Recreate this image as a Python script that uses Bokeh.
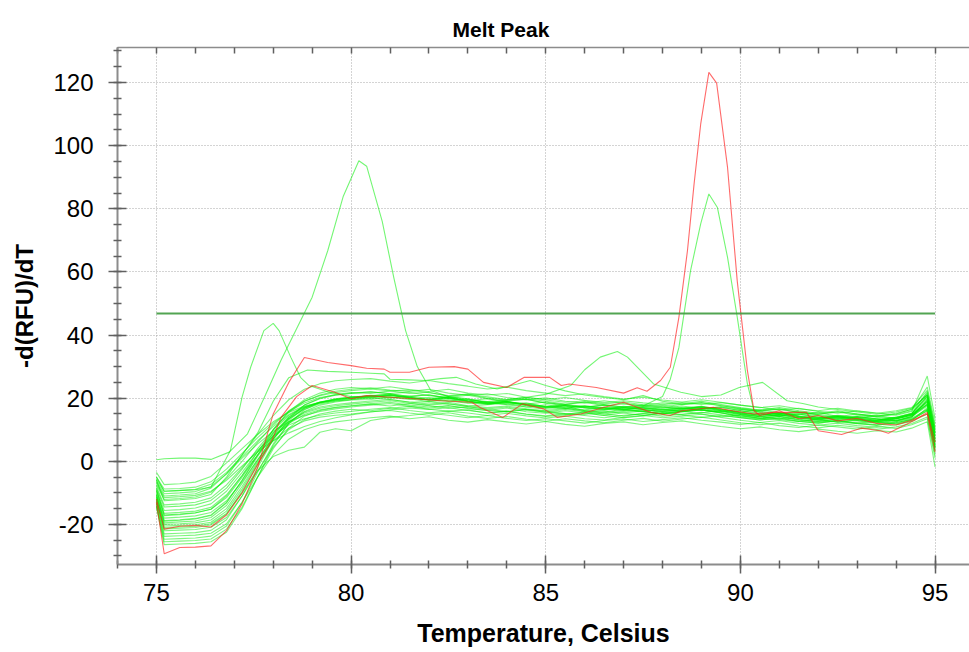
from bokeh.plotting import figure
from bokeh.models import FixedTicker, LinearAxis, Range1d, Title
from bokeh.embed import file_html
from bokeh.resources import INLINE

# ---------------- data ----------------
TEMPS = [75.0, 75.2, 75.6, 76.0, 76.4, 76.8, 77.2, 77.6, 78.0, 78.4, 78.8, 79.2, 79.6, 80.0,
         80.5, 81.0, 81.5, 82.0, 82.5, 83.0, 83.5, 84.0, 84.5, 85.0, 85.5, 86.0, 86.5, 87.0,
         87.5, 88.0, 88.5, 89.0, 89.5, 90.0, 90.5, 91.0, 91.5, 92.0, 92.5, 93.0, 93.5, 94.0,
         94.4, 94.8, 95.0]

G01 = [-3.5, -7.4, -7.1, -6.6, -4.8, -0.5, 4.0, 8.5, 12.5, 15.5, 17.5, 18.6, 19.2, 19.5,
       20.1, 19.6, 18.7, 18.9, 18.1, 17.5, 17.9, 18.4, 17.2, 16.5, 16.9, 15.8, 16.2, 16.9, 16.4,
       15.7, 16.3, 17.1, 16.0, 15.2, 14.6, 15.3, 14.1, 13.6, 14.2, 13.1, 12.9, 13.7, 14.8, 18.5, 7.5]
G02 = [-5.0, -8.8, -8.6, -8.2, -6.5, -2.5, 2.5, 7.5, 12.0, 15.8, 18.5, 20.2, 21.0, 21.6,
       22.0, 21.5, 21.9, 20.8, 20.2, 20.9, 19.8, 19.1, 19.6, 18.5, 18.0, 18.8, 17.9, 17.2, 17.8,
       17.1, 16.6, 17.4, 16.2, 15.6, 16.3, 15.4, 14.8, 15.5, 14.2, 13.8, 14.5, 13.6, 14.9, 20.0, 9.0]
G03 = [-6.0, -10.3, -10.0, -9.6, -8.0, -4.0, 1.0, 5.5, 9.5, 12.5, 14.5, 15.8, 16.6, 17.2,
       17.8, 18.3, 17.4, 16.8, 17.6, 16.9, 16.1, 15.6, 16.4, 15.9, 15.1, 14.8, 15.7, 15.3, 14.5,
       15.2, 15.9, 15.0, 14.1, 14.7, 13.6, 13.2, 12.6, 13.3, 12.5, 12.0, 12.8, 11.9, 13.2, 16.0, 5.0]
G04 = [-7.5, -12.1, -11.8, -11.3, -9.8, -5.5, 0.0, 6.0, 11.5, 16.0, 19.0, 20.8, 21.8, 22.4,
       22.9, 22.3, 21.5, 21.9, 20.6, 21.2, 20.4, 19.6, 20.3, 19.4, 18.7, 19.1, 18.2, 18.8, 17.9,
       17.3, 18.0, 18.5, 17.6, 16.8, 16.1, 16.6, 15.5, 14.9, 15.6, 14.6, 14.1, 14.8, 16.0, 21.5, 10.5]
G05 = [-8.0, -13.8, -13.5, -13.0, -11.6, -7.5, -2.0, 3.5, 8.0, 11.5, 13.5, 14.6, 15.3, 15.8,
       16.5, 17.0, 16.1, 15.4, 15.9, 15.3, 14.5, 15.2, 14.4, 13.7, 14.3, 13.5, 13.1, 13.9, 14.5,
       13.8, 14.3, 14.9, 13.9, 13.0, 12.3, 12.9, 12.0, 11.4, 12.1, 11.3, 10.8, 11.6, 12.6, 15.0, 3.0]
G06 = [-9.0, -15.6, -15.3, -14.8, -13.5, -9.5, -3.5, 3.0, 9.0, 13.5, 16.5, 18.2, 19.0, 19.6,
       20.3, 20.8, 20.2, 19.4, 19.0, 19.7, 18.6, 18.0, 18.5, 17.3, 16.8, 17.6, 17.0, 16.3, 17.1,
       16.5, 15.9, 16.7, 17.2, 16.0, 15.0, 14.4, 15.0, 13.9, 13.3, 14.1, 13.4, 12.7, 14.3, 19.0, 6.5]
G07 = [-10.0, -17.2, -16.9, -16.4, -15.2, -11.0, -4.5, 3.0, 10.0, 15.5, 19.0, 21.0, 22.2, 22.8,
       23.3, 22.6, 22.1, 22.8, 21.6, 20.9, 21.4, 20.2, 19.5, 20.1, 19.0, 18.4, 19.2, 18.3, 17.7,
       18.5, 17.9, 18.6, 17.7, 16.6, 15.9, 16.5, 15.5, 14.9, 15.7, 15.0, 14.3, 15.2, 16.4, 23.5, 12.0]
G08 = [-10.5, -18.0, -17.7, -17.3, -16.2, -12.5, -6.5, 0.5, 6.5, 10.5, 12.8, 14.0, 14.6, 15.0,
       15.7, 16.1, 15.3, 14.6, 15.4, 14.3, 13.6, 14.2, 13.3, 12.7, 13.5, 12.8, 12.2, 13.0, 13.6,
       12.7, 13.4, 14.0, 13.1, 12.2, 11.6, 12.1, 11.2, 10.6, 11.4, 10.8, 10.1, 10.9, 12.0, 14.0, 2.0]
G09 = [-10.8, -18.8, -18.5, -18.1, -17.0, -13.0, -6.0, 1.5, 8.5, 13.5, 16.8, 18.6, 19.6, 20.2,
       20.8, 21.2, 20.1, 19.5, 20.4, 19.1, 18.3, 18.9, 18.0, 17.2, 17.9, 17.3, 16.6, 17.3, 16.8,
       16.0, 16.7, 17.2, 16.4, 15.4, 14.6, 15.2, 14.2, 13.6, 14.4, 13.7, 13.0, 13.9, 15.1, 20.5, 8.0]
G10 = [-11.2, -19.5, -19.2, -18.9, -17.8, -14.0, -7.0, 0.5, 7.5, 12.0, 14.8, 16.3, 17.1, 17.6,
       18.2, 18.7, 17.8, 17.2, 17.6, 16.7, 16.1, 16.9, 15.7, 15.2, 16.0, 15.3, 14.5, 15.4, 15.9,
       15.0, 15.6, 16.3, 15.3, 14.4, 13.7, 14.3, 13.3, 12.7, 13.5, 12.9, 12.2, 13.0, 14.2, 17.5, 5.5]
G11 = [-11.5, -20.0, -19.8, -19.5, -18.6, -15.0, -8.0, 0.0, 8.0, 14.0, 17.8, 19.8, 20.9, 21.5,
       22.0, 21.4, 20.5, 21.1, 20.0, 19.2, 19.8, 18.7, 18.1, 18.8, 17.7, 17.1, 17.9, 17.1, 16.5,
       17.2, 16.6, 17.2, 16.5, 15.4, 14.6, 15.2, 14.2, 13.6, 14.4, 13.7, 13.0, 13.9, 15.1, 22.0, 10.0]
G12 = [-12.0, -20.5, -20.3, -20.1, -19.3, -15.8, -8.8, -0.5, 7.0, 12.5, 15.6, 17.2, 18.0, 18.5,
       19.1, 19.6, 18.8, 18.1, 18.7, 17.6, 17.0, 17.5, 16.6, 16.0, 16.7, 16.1, 15.4, 16.2, 15.6,
       15.0, 15.7, 16.3, 15.4, 14.4, 13.6, 14.2, 13.2, 12.6, 13.4, 12.8, 12.1, 12.9, 14.1, 18.0, 4.5]
G13 = [-12.5, -21.4, -21.2, -21.0, -20.2, -16.8, -9.5, -1.0, 7.0, 13.0, 16.8, 18.8, 19.8, 20.4,
       20.6, 20.0, 20.7, 21.0, 19.9, 19.4, 18.6, 19.3, 19.7, 18.4, 17.6, 17.1, 17.8, 16.6, 17.3,
       17.8, 16.9, 16.2, 15.6, 16.4, 15.9, 14.8, 15.3, 14.4, 13.7, 14.2, 13.5, 12.8, 14.0, 19.5, 7.0]
G14 = [-12.8, -22.0, -21.8, -21.6, -20.9, -17.8, -11.0, -3.0, 4.5, 10.0, 13.2, 15.0, 15.9, 16.5,
       16.0, 16.8, 17.4, 16.5, 15.9, 16.3, 15.2, 15.8, 14.9, 14.2, 14.7, 15.3, 14.5, 13.8, 14.4,
       15.2, 14.6, 13.9, 14.5, 13.8, 13.1, 13.6, 12.6, 12.1, 12.8, 11.9, 11.4, 12.2, 13.3, 16.5, 3.5]
G15 = [-13.0, -23.0, -22.8, -22.6, -21.9, -18.5, -11.0, -2.0, 7.0, 13.5, 17.8, 20.0, 21.2, 21.8,
       21.5, 22.3, 22.6, 21.7, 20.8, 21.3, 20.0, 19.4, 19.9, 19.0, 18.1, 18.7, 17.6, 18.2, 17.4,
       16.8, 17.5, 16.7, 17.3, 16.5, 15.6, 15.0, 15.8, 14.7, 14.2, 14.9, 14.0, 13.6, 15.0, 21.0, 8.5]
G16 = [-13.5, -23.8, -23.6, -23.4, -22.8, -19.8, -13.0, -5.0, 2.0, 7.0, 10.0, 11.6, 12.5, 13.1,
       13.8, 14.3, 13.5, 14.1, 13.0, 12.4, 13.2, 12.5, 11.8, 12.6, 11.7, 11.1, 12.0, 12.5, 11.6,
       12.3, 12.8, 11.9, 11.0, 10.3, 10.9, 10.0, 9.4, 10.2, 9.5, 8.9, 9.7, 9.3, 10.5, 12.5, -1.8]
G17 = [-14.0, -24.7, -24.5, -24.3, -23.7, -20.5, -13.0, -3.5, 5.5, 12.0, 15.8, 17.8, 18.8, 19.4,
       19.6, 20.4, 19.8, 18.9, 19.5, 18.6, 18.0, 18.9, 18.2, 17.4, 16.8, 17.5, 16.9, 16.2, 17.0,
       16.4, 15.8, 16.5, 17.0, 16.1, 15.2, 14.4, 15.0, 14.0, 13.4, 14.2, 13.5, 12.8, 13.8, 19.5, 6.0]
G18 = [-14.2, -25.5, -25.3, -25.1, -24.6, -21.5, -14.5, -5.0, 4.0, 10.5, 14.3, 16.1, 17.0, 17.5,
       18.1, 17.5, 18.3, 17.6, 16.8, 17.3, 16.4, 15.8, 16.5, 15.5, 14.9, 15.6, 15.0, 14.3, 15.1,
       15.6, 14.8, 15.4, 16.0, 15.1, 14.1, 13.4, 14.0, 13.0, 12.4, 13.2, 12.5, 11.8, 12.8, 17.0, 4.0]
G19 = [-14.6, -26.4, -26.2, -26.0, -25.5, -22.5, -15.0, -5.0, 5.0, 12.0, 16.3, 18.6, 19.7, 20.3,
       20.9, 20.3, 19.6, 20.2, 19.1, 18.4, 18.9, 17.9, 17.2, 17.9, 17.0, 16.3, 17.1, 16.4, 15.8,
       16.5, 17.0, 16.3, 15.8, 14.8, 14.1, 14.7, 13.7, 13.1, 13.9, 13.2, 12.5, 13.4, 14.6, 19.0, 6.5]
G20 = [-10.8, -19.0, -18.7, -18.3, -17.2, -13.2, -6.0, 2.0, 10.0, 15.8, 19.5, 21.6, 22.8, 23.4,
       23.0, 23.6, 22.7, 22.1, 22.8, 21.6, 21.0, 21.5, 20.3, 19.6, 20.2, 19.3, 18.6, 19.2, 18.5,
       17.9, 18.6, 18.0, 18.6, 17.8, 17.1, 16.2, 16.8, 15.8, 15.2, 16.0, 15.3, 14.6, 15.8, 27.0, 13.5]
G21 = [-12.0, -21.0, -20.8, -20.6, -19.8, -16.5, -10.0, -3.0, 1.5, 3.5, 4.5, 9.2, 10.3, 9.7,
       12.9, 13.9, 14.5, 15.2, 14.6, 13.8, 14.5, 13.6, 12.9, 13.5, 12.8, 12.1, 12.9, 13.4, 12.6,
       13.2, 13.8, 13.0, 12.4, 11.7, 12.3, 11.3, 10.7, 11.5, 10.9, 10.2, 11.0, 10.4, 11.6, 13.5, 1.0]
G22 = [-9.5, -16.5, -16.2, -15.8, -14.6, -10.6, -4.5, 2.0, 8.0, 12.5, 15.3, 16.8, 17.6, 18.1,
       18.7, 19.2, 18.4, 17.8, 18.3, 17.3, 16.6, 17.2, 16.2, 15.6, 16.4, 15.7, 15.0, 15.8, 16.3,
       15.5, 16.1, 16.7, 15.8, 14.8, 14.1, 14.7, 13.7, 13.1, 13.9, 13.3, 12.6, 13.4, 14.6, 18.0, 5.0]
G23 = [-7.0, -11.5, -11.2, -10.8, -9.5, -6.0, -1.5, 3.0, 6.5, 9.0, 11.0, 12.6, 13.8, 14.7,
       15.6, 16.3, 16.9, 16.4, 17.0, 16.1, 15.4, 15.9, 15.0, 14.4, 15.1, 14.5, 13.8, 14.6, 15.1,
       14.3, 14.9, 15.5, 14.7, 13.8, 13.1, 13.7, 12.7, 12.1, 12.9, 12.3, 11.6, 12.5, 13.6, 16.5, 4.5]
G24 = [-5.5, -9.5, -9.3, -8.9, -7.3, -3.5, 1.5, 6.5, 11.0, 14.8, 17.3, 18.7, 19.5, 20.0,
       20.6, 21.0, 20.2, 19.5, 20.1, 19.1, 18.4, 18.9, 18.0, 17.3, 18.0, 17.4, 16.7, 17.4, 16.8,
       16.2, 16.9, 17.4, 16.5, 15.5, 14.8, 15.4, 14.4, 13.8, 14.6, 13.9, 13.2, 14.0, 15.2, 20.5, 8.0]
G25 = [-6.5, -11.0, -10.7, -10.3, -8.5, -4.0, 2.0, 8.5, 14.5, 19.5, 22.8, 24.6, 25.5, 25.9,
       26.2, 25.4, 24.8, 25.6, 24.6, 23.8, 22.9, 23.5, 22.4, 21.6, 20.8, 21.4, 20.5, 19.7, 20.3,
       19.4, 18.8, 19.5, 18.7, 17.8, 17.0, 17.6, 16.6, 16.0, 16.8, 15.9, 15.2, 16.0, 17.0, 22.5, 11.0]

# special curves (own temperature points)
TALL_T = [75.0, 75.2, 75.6, 76.0, 76.4, 76.87, 77.34, 77.8, 78.2, 78.6, 79.0, 79.4, 79.8, 80.2,
          80.4, 80.8, 81.1, 81.4, 81.7, 82.05, 82.5, 83.0, 83.5, 84.0, 84.5, 85.0, 85.5, 86.0,
          86.5, 87.0, 87.5, 88.0, 88.5, 89.0, 89.5, 90.0, 90.5, 91.0, 91.5, 92.0, 92.5, 93.0,
          93.5, 94.0, 94.4, 94.8, 95.0]
TALL_V = [0.5, 0.8, 1.0, 1.0, 0.6, 2.9, 8.7, 21.0, 32.0, 42.0, 52.0, 66.7, 84.0, 95.2,
          93.5, 76.0, 58.0, 41.4, 30.0, 22.4, 20.5, 19.8, 18.5, 19.0, 17.6, 16.8, 17.5, 16.0,
          15.6, 16.5, 15.8, 15.0, 15.9, 16.3, 15.4, 14.0, 13.4, 14.1, 13.0, 12.4, 13.0, 12.0,
          11.4, 12.3, 13.2, 16.0, 4.0]

P78_T = [75.0, 75.2, 75.6, 76.0, 76.4, 76.9, 77.2, 77.42, 77.76, 78.0, 78.15, 78.45, 78.7, 78.92,
         79.4, 80.0, 80.5, 81.0, 81.5, 82.0, 82.5, 83.0, 83.5, 84.0, 84.5, 85.0, 85.5, 86.0,
         86.5, 87.0, 87.5, 88.0, 88.5, 89.0, 89.5, 90.0, 90.5, 91.0, 91.5, 92.0, 92.5, 93.0,
         93.5, 94.0, 94.4, 94.8, 95.0]
P78_V = [-5.0, -9.5, -9.2, -9.0, -8.2, 3.4, 20.3, 29.8, 41.4, 43.7, 41.4, 33.0, 26.6, 24.0,
         22.0, 20.5, 20.0, 21.0, 20.3, 19.5, 20.2, 19.0, 18.2, 18.8, 17.9, 17.1, 17.7, 16.9,
         16.3, 17.0, 16.4, 15.8, 16.5, 17.0, 16.1, 15.0, 14.3, 14.9, 13.9, 13.3, 14.1, 13.4,
         12.7, 13.5, 14.6, 18.0, 6.0]

P89_T = [75.0, 75.2, 75.6, 76.0, 76.4, 76.8, 77.2, 77.6, 78.0, 78.4, 78.8, 79.2, 79.6, 80.0,
         80.5, 81.0, 81.5, 82.0, 82.5, 83.0, 83.5, 84.0, 84.5, 85.0, 85.5, 86.0, 86.5, 87.0,
         87.5, 88.0, 88.2, 88.42, 88.72, 88.98, 89.19, 89.41, 89.67, 89.92, 90.18, 90.35, 90.8,
         91.2, 91.6, 92.0, 92.5, 93.0, 93.5, 94.0, 94.4, 94.8, 95.0]
P89_V = [-9.0, -17.0, -16.7, -16.3, -15.2, -11.5, -5.0, 2.0, 9.0, 14.0, 17.0, 18.5, 19.3, 19.8,
         20.4, 20.9, 20.1, 19.4, 19.9, 18.9, 18.2, 18.6, 17.7, 17.0, 17.6, 17.0, 16.4, 17.1,
         17.5, 20.5, 26.0, 36.0, 60.4, 75.2, 84.7, 80.4, 64.6, 45.6, 24.5, 16.0, 14.5,
         15.2, 14.0, 13.4, 14.2, 13.5, 12.8, 13.6, 14.8, 19.0, 7.0]

RED_PEAK_T = [75.0, 75.2, 75.6, 76.0, 76.4, 76.8, 77.2, 77.6, 78.0, 78.4, 78.8, 79.4, 80.0,
              80.4, 80.85, 81.0, 81.5, 82.0, 82.65, 83.0, 83.4, 84.0, 84.45, 85.1, 85.4, 85.6,
              86.3, 87.0, 87.35, 87.6, 87.95, 88.2, 88.42, 88.64, 88.81, 88.98, 89.19, 89.39,
              89.67, 89.92, 90.18, 90.35, 90.5, 91.0, 91.5, 92.0, 92.5, 93.0, 93.5, 94.0, 94.4,
              94.8, 95.0]
RED_PEAK_V = [-13.0, -29.3, -27.3, -27.2, -26.8, -22.0, -13.5, -2.0, 15.0, 25.0, 32.9, 31.3, 30.3,
              29.5, 29.2, 28.2, 28.2, 29.8, 30.0, 29.2, 25.0, 23.4, 26.6, 26.6, 24.0, 24.5,
              23.4, 21.6, 23.3, 22.2, 25.6, 29.8, 45.6, 66.7, 87.8, 106.8, 123.2, 119.8,
              93.1, 57.0, 28.7, 16.0, 14.5, 16.0, 13.5, 14.5, 12.8, 13.6, 12.0, 11.5, 13.0,
              15.0, 3.0]

RED_BAND_T = [75.0, 75.2, 75.6, 76.0, 76.4, 76.8, 77.2, 77.6, 78.0, 78.2, 78.6, 79.0, 79.6,
              80.0, 80.4, 81.0, 81.6, 82.3, 83.1, 83.3, 83.9, 84.4, 84.95, 85.3, 85.9, 86.5,
              87.0, 87.7, 88.2, 88.5, 89.3, 89.8, 90.35, 90.86, 91.7, 92.0, 92.6, 93.1, 93.6,
              93.8, 94.46, 94.8, 95.0]
RED_BAND_V = [-12.0, -21.5, -20.6, -20.3, -20.8, -17.0, -10.0, -1.0, 7.5, 13.9, 20.5, 24.0, 21.8,
              19.8, 20.8, 20.3, 19.8, 19.2, 18.7, 17.1, 13.9, 18.2, 16.6, 13.9, 15.0, 17.1,
              18.7, 15.5, 14.5, 16.0, 17.1, 16.0, 15.0, 15.5, 15.5, 9.7, 8.5, 10.5, 9.7,
              8.9, 12.9, 15.5, 6.0]

BUMP_T = [75.0, 75.2, 75.6, 76.0, 76.4, 76.8, 77.2, 77.6, 78.0, 78.4, 78.8, 79.2, 79.6, 80.0,
          80.5, 81.0, 81.5, 82.0, 82.5, 83.0, 83.5, 84.0, 84.5, 85.0, 85.64, 86.0, 86.4, 86.84,
          87.1, 87.77, 88.47, 89.0, 89.5, 89.97, 90.57, 91.2, 91.6, 92.0, 92.5, 93.0, 93.5,
          94.0, 94.4, 94.8, 95.0]
BUMP_V = [-8.5, -14.5, -14.2, -13.8, -12.4, -8.5, -2.5, 4.0, 10.0, 14.5, 17.2, 18.8, 19.6, 20.1,
          20.7, 21.3, 20.6, 19.9, 20.5, 19.6, 18.9, 19.5, 20.3, 21.2, 24.0, 29.0, 33.0, 34.8,
          33.0, 24.5, 21.9, 20.5, 21.0, 23.4, 25.0, 19.2, 18.3, 17.2, 16.4, 15.6, 14.9,
          15.6, 16.8, 21.0, 9.5]

HI_T = [75.0, 75.2, 75.6, 76.0, 76.4, 76.8, 77.2, 77.6, 78.0, 78.4, 78.88, 79.4, 80.0, 80.5,
        80.85, 81.0, 81.5, 81.9, 82.3, 82.7, 83.2, 83.75, 84.27, 84.6, 85.0, 85.5, 86.0, 86.5,
        87.0, 87.5, 88.0, 88.5, 89.0, 89.5, 90.0, 90.5, 91.0, 91.5, 92.0, 92.5, 93.0, 93.5,
        94.0, 94.4, 94.8, 95.0]
HI_V = [-6.0, -12.5, -12.2, -11.8, -10.5, -5.0, 2.0, 9.0, 19.0, 26.5, 28.9, 28.5, 28.2, 27.9,
        27.7, 26.0, 25.8, 25.6, 26.2, 26.6, 24.5, 22.9, 24.5, 25.6, 24.0, 22.3, 21.0, 20.2,
        19.5, 20.8, 19.0, 18.2, 19.0, 18.0, 17.0, 16.2, 17.0, 16.0, 15.2, 16.0, 15.0, 14.3,
        15.0, 16.5, 21.0, 9.0]

THRESHOLD = 46.8
THRESHOLD_T = [75.0, 95.0]

X_TICKS = [75, 80, 85, 90, 95]
X_TICK_LABELS = ["75", "80", "85", "90", "95"]
X_MINOR = list(range(74, 97))
Y_TICKS = [-20, 0, 20, 40, 60, 80, 100, 120]
Y_TICK_LABELS = ["-20", "0", "20", "40", "60", "80", "100", "120"]
Y_MINOR = list(range(-30, 135, 5))
TITLE = "Melt Peak"

band = [G01, G02, G03, G04, G05, G06, G07, G08, G09, G10, G11, G12, G13, G14, G15, G16,
        G17, G18, G19, G20, G21, G22, G23, G24, G25]
for c in band:
    assert len(c) == len(TEMPS), len(c)
specials_green = [(TALL_T, TALL_V), (P78_T, P78_V), (P89_T, P89_V), (BUMP_T, BUMP_V), (HI_T, HI_V)]
specials_red = [(RED_BAND_T, RED_BAND_V), (RED_PEAK_T, RED_PEAK_V)]
for t, v in specials_green + specials_red:
    assert len(t) == len(v), (len(t), len(v))

# ---------------- figure ----------------
FONT = "Liberation Sans"
p = figure(width=969, height=652, output_backend="svg", toolbar_location=None,
           x_range=Range1d(74.0, 95.885), y_range=Range1d(-32.7, 131.1),
           min_border_left=117, min_border_right=0, min_border_top=47, min_border_bottom=88)
p.outline_line_color = None
p.background_fill_color = "white"
p.border_fill_color = "white"

p.title = Title(text=TITLE, align="left", offset=335, text_font=FONT, vertical_align="top",
                text_font_size="21px", text_font_style="bold", text_color="#000000", standoff=10)

xt = FixedTicker(ticks=X_TICKS, minor_ticks=X_MINOR)
yt = FixedTicker(ticks=Y_TICKS, minor_ticks=Y_MINOR)

xa = p.xaxis[0]
xa.ticker = xt
xa.major_label_overrides = dict(zip(X_TICKS, X_TICK_LABELS))
ya = p.yaxis[0]
ya.ticker = yt
ya.major_label_overrides = dict(zip(Y_TICKS, Y_TICK_LABELS))

for ax in (xa, ya):
    ax.axis_line_color = "#8c8c8c"
    ax.axis_line_width = 2
    ax.major_tick_line_color = "#606060"
    ax.minor_tick_line_color = "#606060"
    ax.major_tick_line_width = 1.5
    ax.minor_tick_line_width = 1.5
    ax.major_tick_in = 9
    ax.major_tick_out = 9
    ax.minor_tick_in = 4
    ax.minor_tick_out = 4
    ax.major_label_text_font = FONT
    ax.major_label_text_font_size = "24px"
    ax.major_label_text_color = "#000000"
    ax.axis_label_text_font = FONT
    ax.axis_label_text_font_style = "bold"
    ax.axis_label_text_color = "#000000"

xa.axis_label = "Temperature, Celsius"
xa.axis_label_text_font_size = "25px"
xa.major_label_standoff = 10
xa.axis_label_standoff = 15
ya.axis_label = "-d(RFU)/dT"
ya.axis_label_text_font_size = "24px"
ya.major_label_standoff = 15
ya.axis_label_standoff = 12

# top border with small inward ticks (no labels)
top_ticker = FixedTicker(ticks=[], minor_ticks=X_MINOR)
top = LinearAxis(ticker=top_ticker, major_label_standoff=0,
                 major_tick_in=0, major_tick_out=0, minor_tick_in=6, minor_tick_out=0,
                 axis_line_color="#8c8c8c", axis_line_width=1.5,
                 minor_tick_line_color="#606060", minor_tick_line_width=1.5)
p.add_layout(top, "above")

for g in (p.xgrid[0], p.ygrid[0]):
    g.grid_line_color = "#a8a8a8"
    g.grid_line_dash = "1 2"
    g.grid_line_width = 1
p.xgrid[0].ticker = xt
p.ygrid[0].ticker = yt

GREEN = "#00ee00"
RED = "#ff1a1a"
for c in band:
    p.line(TEMPS, c, line_color=GREEN, line_alpha=0.5, line_width=1.1)
for t, v in specials_green:
    p.line(t, v, line_color=GREEN, line_alpha=0.55, line_width=1.1)
for t, v in specials_red:
    p.line(t, v, line_color=RED, line_alpha=0.65, line_width=1.1)

p.line(THRESHOLD_T, [THRESHOLD, THRESHOLD], line_color="#3f9a3f", line_width=2, line_alpha=0.9)

open("out.html", "w").write(file_html(p, INLINE))
